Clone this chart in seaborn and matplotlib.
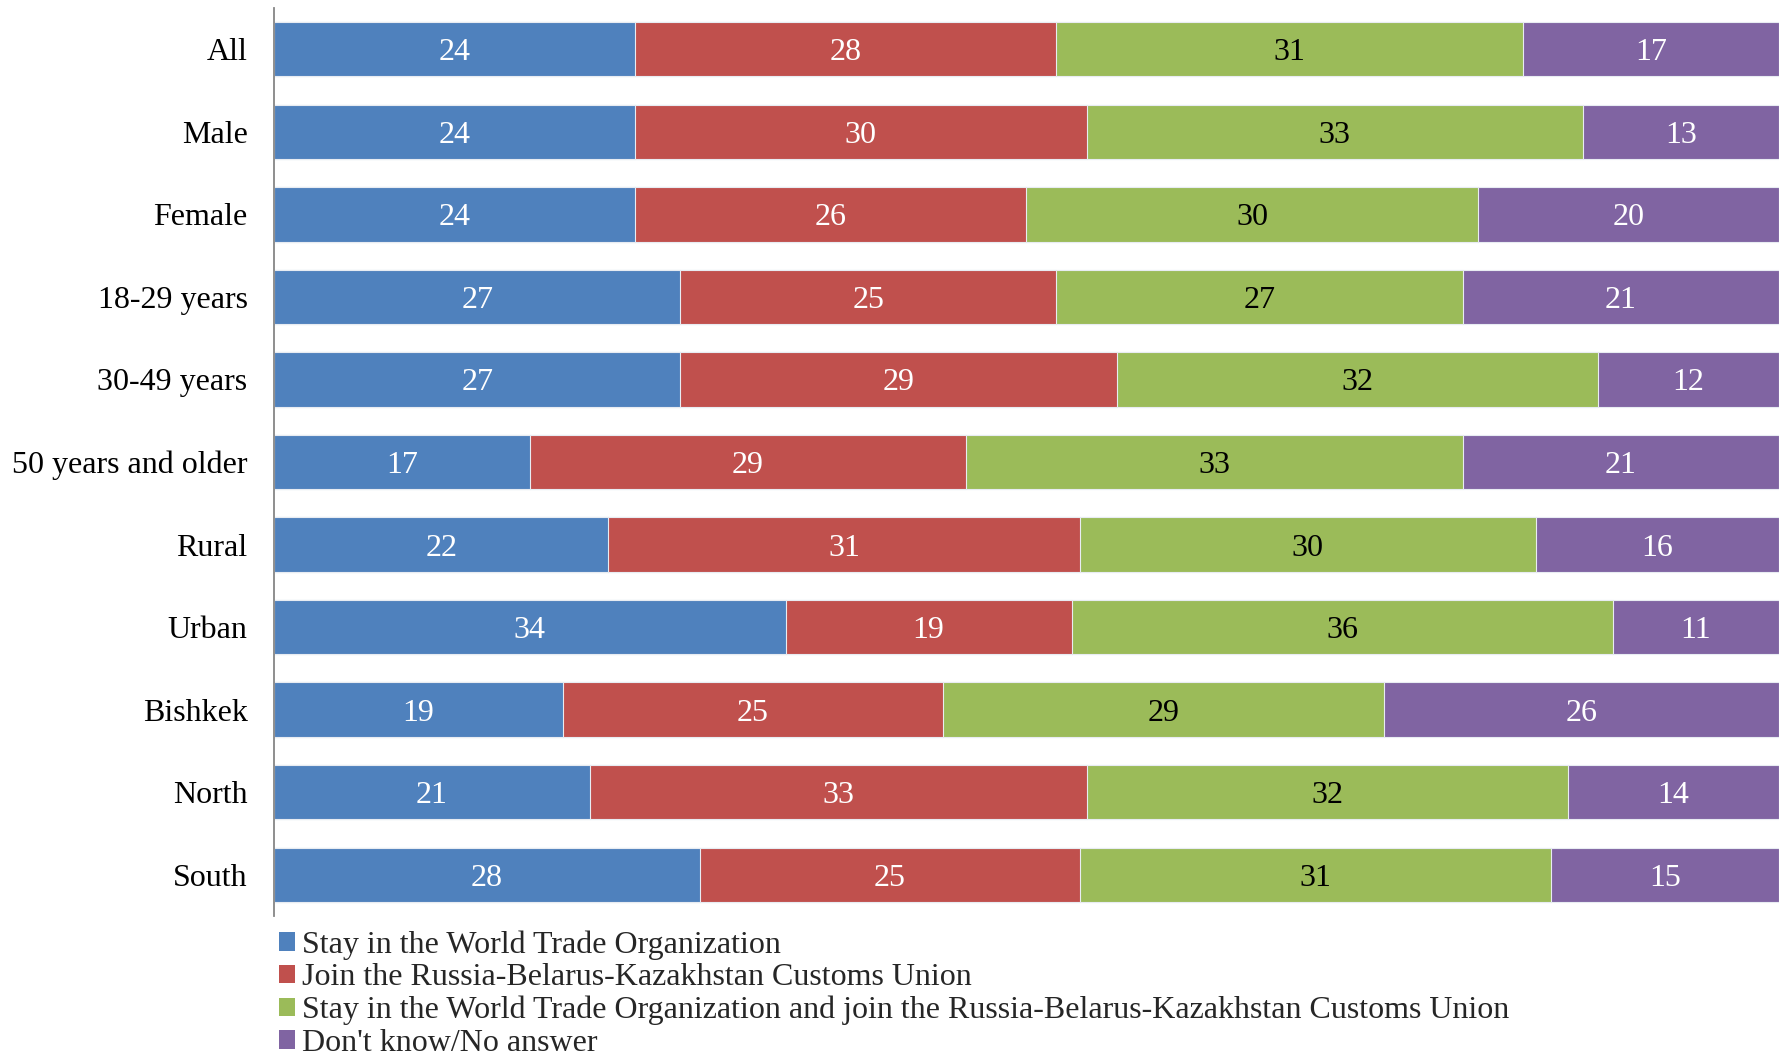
import numpy as np
import matplotlib
matplotlib.use("Agg")
import matplotlib.pyplot as plt
from matplotlib.patches import Patch
import seaborn as sns

# ==========================================
# Data (percent of respondents)
# ==========================================
groups = ["All", "Male", "Female", "18-29 years", "30-49 years", "50 years and older",
          "Rural", "Urban", "Bishkek", "North", "South"]
stay_wto = [24, 24, 24, 27, 27, 17, 22, 34, 19, 21, 28]
join_cu = [28, 30, 26, 25, 29, 29, 31, 19, 25, 33, 25]
both = [31, 33, 30, 27, 32, 33, 30, 36, 29, 32, 31]
dont_know = [17, 13, 20, 21, 12, 21, 16, 11, 26, 14, 15]

series_names = [
    "Stay in the World Trade Organization",
    "Join the Russia-Belarus-Kazakhstan Customs Union",
    "Stay in the World Trade Organization and join the Russia-Belarus-Kazakhstan Customs Union",
    "Don't know/No answer",
]
colors = ["#4F81BD", "#C0504D", "#9BBB59", "#8064A2"]
text_colors = ["white", "white", "black", "white"]

FS = 23

# ==========================================
# Plot setup
# ==========================================
sns.set_theme(style="white")
plt.rcParams["font.family"] = ["Liberation Serif", "DejaVu Serif"]

vals = np.array([stay_wto, join_cu, both, dont_know], dtype=float).T
# 100% stacked: each row scaled to its own total
shares = vals / vals.sum(axis=1, keepdims=True) * 100
cum = shares.cumsum(axis=1)

fig = plt.figure(figsize=(17.85, 10.59), dpi=100)
ax = fig.add_axes([0.1535, 0.135, 0.843, 0.8575])

# draw cumulative bars back to front so each segment shows
for i in reversed(range(4)):
    sns.barplot(x=cum[:, i], y=groups, color=colors[i], saturation=1,
                width=0.66, errorbar=None, edgecolor="#E8ECF2", linewidth=0.8,
                orient="y", ax=ax)

# value labels in the middle of each segment
for r in range(len(groups)):
    for i in range(4):
        start = cum[r, i] - shares[r, i]
        ax.text(start + shares[r, i] / 2, r, f"{int(vals[r, i])}",
                ha="center", va="center_baseline", fontsize=FS, color=text_colors[i])

ax.set_xlim(0, 100)
ax.set_ylim(len(groups) - 0.5, -0.5)
ax.set_xlabel("")
ax.set_ylabel("")
ax.xaxis.set_visible(False)

for side in ["top", "right", "bottom"]:
    ax.spines[side].set_visible(False)
ax.spines["left"].set_color("#868686")
ax.spines["left"].set_linewidth(1.3)

# category labels without marks; marks between categories
ax.tick_params(axis="y", which="major", length=0, pad=19, labelsize=FS, labelcolor="black")
ax.set_yticks(np.arange(-0.5, len(groups), 1.0), minor=True)
ax.tick_params(axis="y", which="minor", length=9, width=1.3, color="#868686", direction="out")

handles = [Patch(facecolor=c, edgecolor="none") for c in colors]
leg = fig.legend(handles, series_names, loc="upper left",
                 bbox_to_anchor=(0.1565, 0.1215), frameon=False, fontsize=FS,
                 handlelength=0.5, handleheight=0.5, handletextpad=0.22,
                 labelspacing=0.11, borderaxespad=0, borderpad=0)

fig.savefig("out.png", dpi=100)
plt.close(fig)
